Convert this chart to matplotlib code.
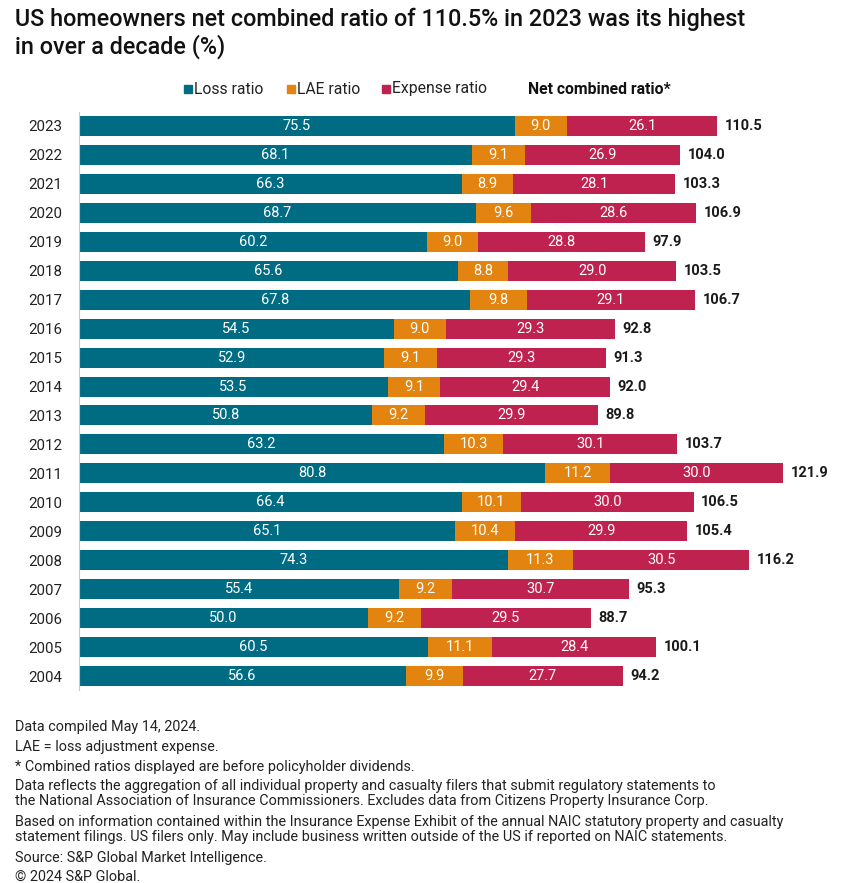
import matplotlib
matplotlib.use('Agg')
import matplotlib.pyplot as plt
from matplotlib.patches import Rectangle

plt.rcParams['font.family'] = ['Roboto', 'DejaVu Sans']

years = ['2023', '2022', '2021', '2020', '2019', '2018', '2017', '2016', '2015', '2014',
         '2013', '2012', '2011', '2010', '2009', '2008', '2007', '2006', '2005', '2004']
loss = [75.5, 68.1, 66.3, 68.7, 60.2, 65.6, 67.8, 54.5, 52.9, 53.5,
        50.8, 63.2, 80.8, 66.4, 65.1, 74.3, 55.4, 50.0, 60.5, 56.6]
lae = [9.0, 9.1, 8.9, 9.6, 9.0, 8.8, 9.8, 9.0, 9.1, 9.1,
       9.2, 10.3, 11.2, 10.1, 10.4, 11.3, 9.2, 9.2, 11.1, 9.9]
expense = [26.1, 26.9, 28.1, 28.6, 28.8, 29.0, 29.1, 29.3, 29.3, 29.4,
           29.9, 30.1, 30.0, 30.0, 29.9, 30.5, 30.7, 29.5, 28.4, 27.7]
combined = [110.5, 104.0, 103.3, 106.9, 97.9, 103.5, 106.7, 92.8, 91.3, 92.0,
            89.8, 103.7, 121.9, 106.5, 105.4, 116.2, 95.3, 88.7, 100.1, 94.2]

c_loss = '#006c84'
c_lae = '#e2840f'
c_exp = '#c0224f'

fig = plt.figure(figsize=(8.48, 8.83), dpi=100)
ax = fig.add_axes([79 / 848, 1 - 690 / 883, 762 / 848, 578 / 883])

y = list(range(len(years)))
h = 0.69
left2 = [a for a in loss]
left3 = [a + b for a, b in zip(loss, lae)]
ax.barh(y, loss, height=h, color=c_loss)
ax.barh(y, lae, left=left2, height=h, color=c_lae)
ax.barh(y, expense, left=left3, height=h, color=c_exp)

for i in y:
    ax.text(loss[i] / 2, i, f'{loss[i]:.1f}', ha='center', va='center', color='white', fontsize=10.5)
    ax.text(left2[i] + lae[i] / 2, i, f'{lae[i]:.1f}', ha='center', va='center', color='white', fontsize=10.5)
    ax.text(left3[i] + expense[i] / 2, i, f'{expense[i]:.1f}', ha='center', va='center', color='white', fontsize=10.5)
    end = left3[i] + expense[i]
    ax.text(end + 1.3, i, f'{combined[i]:.1f}', ha='left', va='center', color='#1a1a1a',
            fontsize=10.5, fontweight='bold')

ax.set_xlim(0, 132)
ax.set_ylim(19.48, -0.48)
ax.set_yticks(y)
ax.set_yticklabels(years, fontsize=10.8, color='#222222')
ax.tick_params(axis='y', length=0, pad=12)
ax.set_xticks([])
for s in ['top', 'right', 'bottom']:
    ax.spines[s].set_visible(False)
ax.spines['left'].set_color('#c8c8c8')
ax.spines['left'].set_linewidth(0.8)

# title
fig.text(15 / 848, 1 - 8 / 883, 'US homeowners net combined ratio of 110.5% in 2023 was its highest\nin over a decade (%)',
         ha='left', va='top', fontsize=16.8, fontweight=500, color='#111111', linespacing=1.15)

# legend
ly = 1 - 89 / 883
items = [(184, c_loss, 'Loss ratio'), (287, c_lae, 'LAE ratio'), (382, c_exp, 'Expense ratio')]
sq = 8
for x, c, lab in items:
    fig.add_artist(Rectangle((x / 848, ly - sq / 2 / 883), sq / 848, sq / 883,
                             transform=fig.transFigure, color=c))
    fig.text((x + 10) / 848, ly, lab, ha='left', va='center', fontsize=11.3, color='#222222')
fig.text(528 / 848, ly, 'Net combined ratio*', ha='left', va='center', fontsize=11.3,
         fontweight='bold', color='#111111')

notes = [
    (727, 'Data compiled May 14, 2024.'),
    (747, 'LAE = loss adjustment expense.'),
    (767, '* Combined ratios displayed are before policyholder dividends.'),
    (786, 'Data reflects the aggregation of all individual property and casualty filers that submit regulatory statements to'),
    (801, 'the National Association of Insurance Commissioners. Excludes data from Citizens Property Insurance Corp.'),
    (822, 'Based on information contained within the Insurance Expense Exhibit of the annual NAIC statutory property and casualty'),
    (837, 'statement filings. US filers only. May include business written outside of the US if reported on NAIC statements.'),
    (858, 'Source: S&P Global Market Intelligence.'),
    (877, '\u00a9 2024 S&P Global.'),
]
for yy, t in notes:
    fig.text(15 / 848, 1 - yy / 883, t, ha='left', va='center', fontsize=10.4, color='#222222')

fig.savefig('out.png', dpi=100, facecolor='white')
